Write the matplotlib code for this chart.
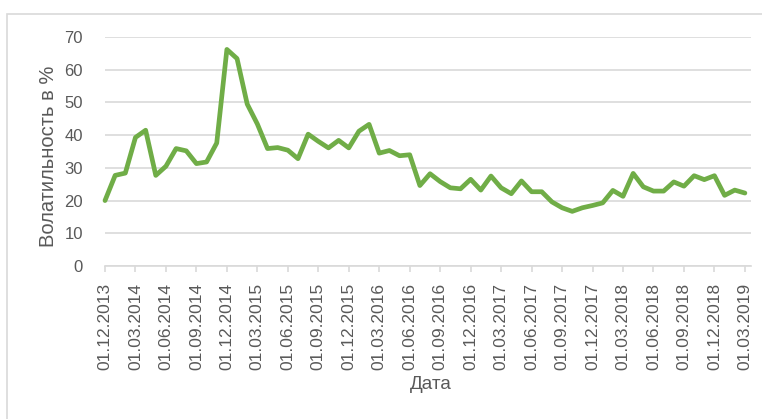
import matplotlib.pyplot as plt
import matplotlib.patches as patches
import pandas as pd


COLOR_LINE = '#70ad47'
COLOR_GRID = '#d9d9d9'
COLOR_TEXT = '#595959'

plt.rcParams['font.family'] = ['Liberation Sans', 'DejaVu Sans']

# monthly volatility, 01.12.2013 .. 01.03.2019
dates = pd.date_range('2013-12-01', '2019-03-01', freq='MS')
volatility = [
    20.0, 27.7, 28.4, 39.3, 41.5, 27.7, 30.5, 35.9, 35.2, 31.3, 31.8, 37.6,
    66.2, 63.4, 49.5, 43.4, 35.9, 36.2, 35.4, 32.8, 40.3, 38.1, 36.1, 38.4,
    36.1, 41.2, 43.3, 34.5, 35.3, 33.7, 34.0, 24.6, 28.2, 25.8, 23.9, 23.6,
    26.5, 23.2, 27.5, 23.9, 22.1, 26.0, 22.7, 22.7, 19.6, 17.8, 16.7, 17.8,
    18.5, 19.3, 23.1, 21.3, 28.3, 24.2, 22.9, 22.9, 25.7, 24.4, 27.6, 26.4,
    27.6, 21.6, 23.2, 22.3,
]
y_ticks = [0, 10, 20, 30, 40, 50, 60, 70]
x_title = 'Дата'
y_title = 'Волатильность в %'

fig = plt.figure(figsize=(7.62, 4.19), dpi=100)
ax = fig.add_axes([105 / 762, 1 - 266 / 419, 646 / 762, 229 / 419])

# chart area frame (Excel style)
fig.patches.append(patches.Rectangle((7 / 762, -0.1), 1.2, 1 - 14 / 419 + 0.1,
                                     transform=fig.transFigure, fill=False,
                                     edgecolor=COLOR_GRID, linewidth=1.2))

x = list(range(len(volatility)))
ax.plot(x, volatility, color=COLOR_LINE, linewidth=3.4, solid_joinstyle='round',
        solid_capstyle='round', zorder=3, clip_on=False)

ax.set_ylim(0, 70)
ax.set_xlim(0, len(volatility) - 0.4)
ax.set_yticks(y_ticks)
ax.yaxis.grid(True, color=COLOR_GRID, linewidth=1.2)
ax.set_axisbelow(True)

tick_pos = x[::3]
ax.set_xticks(tick_pos)
ax.set_xticklabels([dates[i].strftime('%d.%m.%Y') for i in tick_pos], rotation=90,
                   fontsize=12.5, color=COLOR_TEXT)
ax.tick_params(axis='x', length=4, color=COLOR_GRID, width=1.2, pad=8)
ax.tick_params(axis='y', length=0, labelsize=12, labelcolor=COLOR_TEXT, pad=16)

for s in ['top', 'right', 'left']:
    ax.spines[s].set_visible(False)
ax.spines['bottom'].set_color(COLOR_GRID)
ax.spines['bottom'].set_linewidth(1.2)

fig.text(431 / 762, 1 - 384 / 419, x_title, ha='center', va='center', fontsize=13.5, color=COLOR_TEXT)
fig.text(49 / 762, 1 - 156 / 419, y_title, ha='center', va='center', rotation=90,
         fontsize=14.5, color=COLOR_TEXT)

fig.savefig('out.png', dpi=100)
